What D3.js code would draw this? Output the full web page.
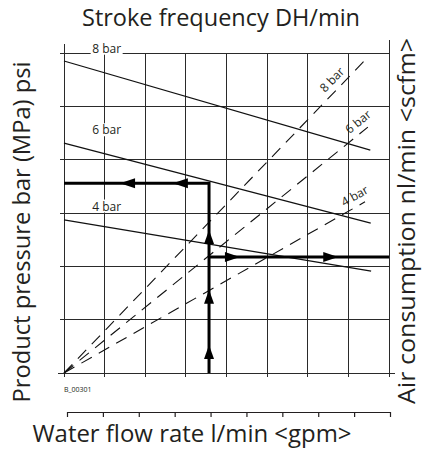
<!DOCTYPE html>
<html>
<head>
<meta charset="utf-8">
<script src="https://cdn.jsdelivr.net/npm/d3@7"></script>
<style>
  body { margin: 0; background: #fff; }
  text { font-family: "Open Sans", sans-serif; fill: #231f20; }
</style>
</head>
<body>
<div id="chart"></div>
<script>
let width = 423,
    height = 452;

// grid is 8 x 6 units
const xTicks = [0, 1, 2, 3, 4, 5, 6, 7, 8];
const yTicks = [0, 1, 2, 3, 4, 5, 6];
const flowTicks = [0, 1, 2, 3, 4, 5, 6, 7, 8, 9];

// solid lines: stroke frequency vs pressure, [start, end] in grid units
const pressureNames = ["8 bar", "6 bar", "4 bar"];
const pressureStart = [[0, 5.85], [0, 4.31], [0, 2.87]];
const pressureEnd = [[7.54, 4.18], [7.55, 2.81], [7.56, 1.91]];
const pressureLabelX = [1.05, 1.05, 1.05];
const pressureLabelY = [5.95, 4.42, 2.99];

// dashed lines: air consumption, from the origin
const airNames = ["8 bar", "6 bar", "4 bar"];
const airEnd = [[7.39, 5.85], [7.48, 4.61], [7.41, 3.21]];
const airLabelX = [6.78, 7.4, 7.28];

// worked example
const exampleX = 3.57;
const exampleYLeft = 3.56;
const exampleYRight = 2.175;
const leftArrowTips = [1.38, 2.68];
const rightArrowTips = [4.33, 6.75];
const upArrowTips = [2.68, 1.56, 0.525];

const svg = d3.select("#chart")
  .append("svg")
  .attr("width", width)
  .attr("height", height);

const x = d3.scaleLinear().domain([0, 8]).range([64, 389]);
const y = d3.scaleLinear().domain([0, 6]).range([373, 53]);
const x2 = d3.scaleLinear().domain([0, 9]).range([67, 390]);

const grid = svg.append("g")
  .attr("stroke", "#2a2a2a")
  .attr("stroke-width", 1)
  .attr("shape-rendering", "crispEdges");

grid.selectAll(".vline")
  .data(xTicks)
  .enter().append("line")
  .attr("x1", d => x(d)).attr("x2", d => x(d))
  .attr("y1", d => d === 0 ? 44 : d === 8 ? 40 : y(6))
  .attr("y2", y(0) + 4);

grid.selectAll(".hline")
  .data(yTicks)
  .enter().append("line")
  .attr("x1", d => d === 0 ? x(0) - 6 : x(0) - 4)
  .attr("x2", d => d === 0 ? x(8) + 6 : x(8))
  .attr("y1", d => y(d)).attr("y2", d => y(d));

// second flow axis below
svg.append("g")
  .attr("transform", "translate(0,412)")
  .call(d3.axisBottom(x2).tickValues(flowTicks).tickSize(5).tickSizeOuter(0).tickFormat(""))
  .call(g => g.selectAll("path, line").attr("stroke", "#231f20").attr("stroke-width", 1.2));

const line = d3.line().x(d => x(d[0])).y(d => y(d[1]));

// dashed air lines
svg.selectAll(".air")
  .data(airEnd)
  .enter().append("path")
  .attr("d", d => line([[0, 0], d]))
  .attr("fill", "none")
  .attr("stroke", "#111")
  .attr("stroke-width", 1.1)
  .attr("stroke-dasharray", "12,8");

// solid pressure lines
svg.selectAll(".press")
  .data(pressureStart)
  .enter().append("path")
  .attr("d", (d, i) => line([d, pressureEnd[i]]))
  .attr("fill", "none")
  .attr("stroke", "#111")
  .attr("stroke-width", 1.3);

// labels on the solid lines (white box hides grid)
const pLab = svg.selectAll(".plab")
  .data(pressureNames)
  .enter().append("g")
  .attr("transform", (d, i) => "translate(" + x(pressureLabelX[i]) + "," + (y(pressureLabelY[i]) - 3) + ")");
pLab.append("rect")
  .attr("x", -16).attr("y", -11).attr("width", 32).attr("height", 13)
  .attr("fill", "#fff");
pLab.append("text")
  .attr("text-anchor", "middle")
  .attr("font-size", 12)
  .text(d => d);

// labels on the dashed lines
svg.selectAll(".alab")
  .data(airNames)
  .enter().append("text")
  .attr("transform", (d, i) => {
    let e = airEnd[i],
        px = x(airLabelX[i]),
        py = y(airLabelX[i] * e[1] / e[0]),
        ang = Math.atan2(y(e[1]) - y(0), x(e[0]) - x(0)) * 180 / Math.PI;
    return "translate(" + px + "," + py + ") rotate(" + ang + ")";
  })
  .attr("dy", -6)
  .attr("text-anchor", "middle")
  .attr("font-size", 12)
  .text(d => d);

// worked example thick path
const ex = svg.append("g");
ex.append("path")
  .attr("d", line([[0, exampleYLeft], [exampleX, exampleYLeft], [exampleX, 0]]))
  .attr("fill", "none").attr("stroke", "#000").attr("stroke-width", 3);
ex.append("path")
  .attr("d", line([[exampleX, exampleYRight], [8, exampleYRight]]))
  .attr("fill", "none").attr("stroke", "#000").attr("stroke-width", 3);

ex.selectAll(".la")
  .data(leftArrowTips)
  .enter().append("path")
  .attr("d", d => "M" + x(d) + "," + y(exampleYLeft) + "l15,-5v10z");
ex.selectAll(".ra")
  .data(rightArrowTips)
  .enter().append("path")
  .attr("d", d => "M" + x(d) + "," + y(exampleYRight) + "l-15,-5v10z");
ex.selectAll(".ua")
  .data(upArrowTips)
  .enter().append("path")
  .attr("d", d => "M" + x(exampleX) + "," + y(d) + "l-5,14h10z");

// texts
svg.append("text")
  .attr("x", 221).attr("y", 26)
  .attr("text-anchor", "middle")
  .attr("font-size", 24)
  .attr("textLength", 278).attr("lengthAdjust", "spacingAndGlyphs")
  .text("Stroke frequency DH/min");

svg.append("text")
  .attr("transform", "translate(30,232) rotate(-90)")
  .attr("text-anchor", "middle")
  .attr("font-size", 24)
  .attr("textLength", 341).attr("lengthAdjust", "spacingAndGlyphs")
  .text("Product pressure bar (MPa) psi");

svg.append("text")
  .attr("transform", "translate(415,221) rotate(-90)")
  .attr("text-anchor", "middle")
  .attr("font-size", 23)
  .attr("textLength", 366).attr("lengthAdjust", "spacingAndGlyphs")
  .text("Air consumption nl/min <scfm>");

svg.append("text")
  .attr("x", 192).attr("y", 442)
  .attr("text-anchor", "middle")
  .attr("font-size", 23)
  .attr("textLength", 319).attr("lengthAdjust", "spacingAndGlyphs")
  .text("Water flow rate l/min <gpm>");

svg.append("text")
  .attr("x", 64).attr("y", 392)
  .attr("font-size", 7)
  .text("B_00301");
</script>
</body>
</html>
